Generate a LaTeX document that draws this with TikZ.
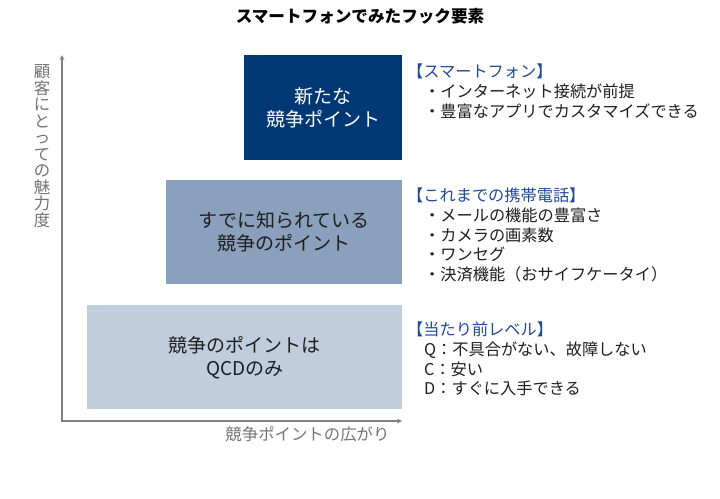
\documentclass[tikz,border=0pt]{standalone}
\usepackage{fontspec}
\setmainfont{Noto Sans CJK JP}
\definecolor{navyblue}{RGB}{0,56,118}
\definecolor{midblue}{RGB}{138,160,189}
\definecolor{paleblue}{RGB}{192,205,221}
\definecolor{headblue}{RGB}{31,73,150}
\definecolor{notetext}{RGB}{30,30,30}
\definecolor{axisgray}{RGB}{128,128,128}
\begin{document}
\begin{tikzpicture}[>=stealth, x=1pt, y=-1pt,
  level/.style={rectangle, anchor=north west, inner sep=0pt, align=center,
    font=\fontsize{19}{23}\selectfont},
  note/.style={anchor=north west, inner sep=0pt, align=left,
    font=\fontsize{16.2}{19.6}\selectfont, text=notetext},
  axislabel/.style={text=axisgray!90!black, font=\fontsize{16.4}{16.5}\selectfont}]
  \useasboundingbox (0,0) rectangle (720,498);
  % Title
  \node[font=\bfseries\fontsize{16.6}{20}\selectfont] (title) at (360,16) {スマートフォンでみたフック要素};
  % Three levels, stacked like stairs
  \node[level, fill=navyblue, text=white, minimum width=158, minimum height=105] (smart) at (244,55)
    {新たな\\競争ポイント};
  \node[level, fill=midblue, text=notetext, minimum width=236, minimum height=104] (keitai) at (166,180)
    {すでに知られている\\競争のポイント};
  \node[level, fill=paleblue, text=notetext, minimum width=315, minimum height=104] (basic) at (87,305)
    {競争のポイントは\\QCDのみ};
  % Notes to the right of each level
  \node[note] (smartnote) at (407,64)
    {\textcolor{headblue}{【スマートフォン】}\\
     \hspace{17pt}・インターネット接続が前提\\
     \hspace{17pt}・豊富なアプリでカスタマイズできる};
  \node[note] (keitainote) at (407,188)
    {\textcolor{headblue}{【これまでの携帯電話】}\\
     \hspace{17pt}・メールの機能の豊富さ\\
     \hspace{17pt}・カメラの画素数\\
     \hspace{17pt}・ワンセグ\\
     \hspace{17pt}・決済機能（おサイフケータイ）};
  \node[note] (basicnote) at (407,322)
    {\textcolor{headblue}{【当たり前レベル】}\\
     \hspace{17pt}Q：不具合がない、故障しない\\
     \hspace{17pt}C：安い\\
     \hspace{17pt}D：すぐに入手できる};
  % Axes
  \coordinate (origin) at (62,421);
  \coordinate (ytop) at (62,55);
  \coordinate (xend) at (402,421);
  \draw[<->, axisgray, line width=1.2pt] (ytop) -- (origin) -- (xend);
  \node[axislabel, align=center, anchor=north] (ylabel) at (42,61)
    {顧\\客\\に\\と\\っ\\て\\の\\魅\\力\\度};
  \node[axislabel, anchor=east] (xlabel) at (393,434) {競争ポイントの広がり};
\end{tikzpicture}
\end{document}
